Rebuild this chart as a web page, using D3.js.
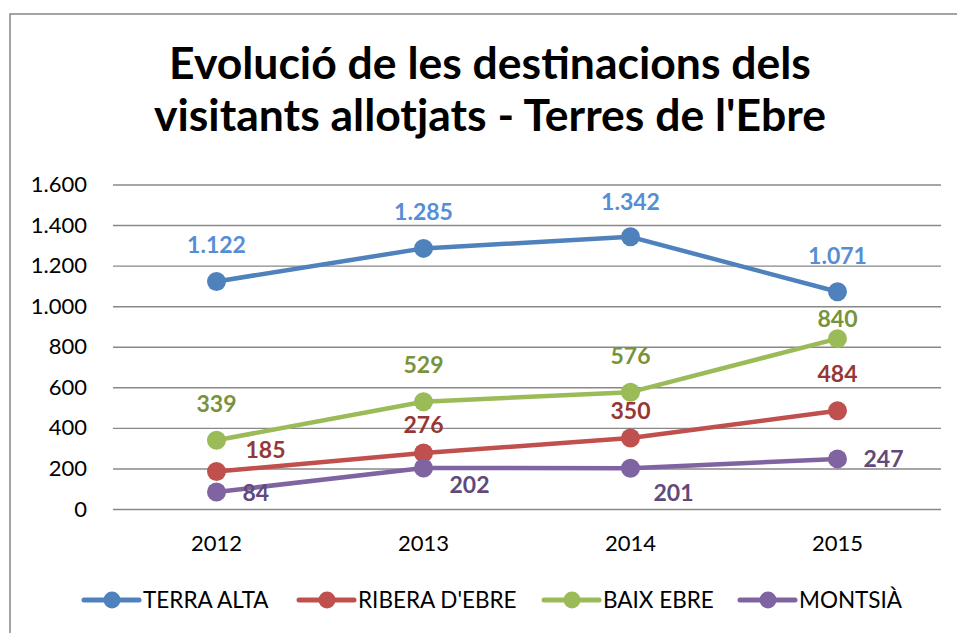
<!DOCTYPE html>
<html>
<head>
<meta charset="utf-8">
<script src="https://cdn.jsdelivr.net/npm/d3@7"></script>
<style>
  body { margin: 0; background: #fff; }
  svg { display: block; font-family: Lato, "Open Sans", sans-serif; }
</style>
</head>
<body>
<div id="chart"></div>
<script>
var years = ["2012", "2013", "2014", "2015"];
var seriesNames = ["TERRA ALTA", "RIBERA D'EBRE", "BAIX EBRE", "MONTSIÀ"];
var terraAlta = [1122, 1285, 1342, 1071];
var riberaEbre = [185, 276, 350, 484];
var baixEbre = [339, 529, 576, 840];
var montsia = [84, 202, 201, 247];
var yTicks = [0, 200, 400, 600, 800, 1000, 1200, 1400, 1600];

var width = 957,
    height = 633;

var lineColors = ["#4f81bd", "#c0504d", "#9bbb59", "#8064a2"];
var labelColors = ["#558ed5", "#953735", "#77933c", "#604a7b"];

// where each data label sits relative to its point [dx, dy, anchor]
var labelPos = [
  [[0, -28, "middle"], [0, -28, "middle"], [0, -27, "middle"], [0, -28, "middle"]],
  [[29, -13, "start"], [0, -20, "middle"], [0, -19, "middle"], [0, -29, "middle"]],
  [[0, -28, "middle"], [0, -29, "middle"], [0, -28, "middle"], [0, -12, "middle"]],
  [[26, 9, "start"], [26, 25, "start"], [23, 33, "start"], [26, 8, "start"]]
];

var series = [terraAlta, riberaEbre, baixEbre, montsia].map(function (vals, i) {
  return {
    name: seriesNames[i],
    values: vals.map(function (v, j) { return { year: years[j], value: v }; })
  };
});

var svg = d3.select("#chart").append("svg")
    .attr("width", width)
    .attr("height", height);

// chart border
svg.append("rect")
    .attr("x", 10)
    .attr("y", 14)
    .attr("width", 980)
    .attr("height", 660)
    .attr("fill", "none")
    .attr("stroke", "#878787")
    .attr("stroke-width", 1.5);

var title = svg.append("text")
    .attr("text-anchor", "middle")
    .attr("font-weight", "bold")
    .attr("font-size", "44.5px")
    .attr("fill", "#000");
title.append("tspan").attr("x", 490).attr("y", 79).text("Evolució de les destinacions dels");
title.append("tspan").attr("x", 490).attr("y", 131).text("visitants allotjats - Terres de l'Ebre");

var x = d3.scaleBand()
    .domain(years)
    .range([113, 941]);

var y = d3.scaleLinear()
    .domain([0, 1600])
    .range([509, 184.5]);

// gridlines
svg.append("g")
    .attr("transform", "translate(113,0)")
    .call(d3.axisLeft(y).tickValues(yTicks).tickSize(-828).tickFormat(""))
    .call(function (g) {
      g.select(".domain").remove();
      g.selectAll(".tick line").attr("stroke", "#888").attr("stroke-width", 1.4);
    });

var fmt = function (v) {
  return d3.format(",")(v).replace(/,/g, ".");
};

// y labels
svg.append("g")
    .attr("transform", "translate(113,0)")
    .call(d3.axisLeft(y).tickValues(yTicks).tickSize(0).tickPadding(26).tickFormat(fmt))
    .call(function (g) {
      g.select(".domain").remove();
      g.selectAll("text")
          .attr("font-family", "Lato, sans-serif")
          .attr("font-size", "22px")
          .attr("fill", "#000");
    });

// x labels
svg.append("g")
    .attr("transform", "translate(0,509)")
    .call(d3.axisBottom(x).tickSize(0).tickPadding(26))
    .call(function (g) {
      g.select(".domain").remove();
      g.selectAll("text")
          .attr("font-family", "Lato, sans-serif")
          .attr("font-size", "22px")
          .attr("fill", "#000");
    });

var line = d3.line()
    .x(function (d) { return x(d.year) + x.bandwidth() / 2; })
    .y(function (d) { return y(d.value); });

var sg = svg.selectAll(".series")
    .data(series)
    .enter().append("g")
    .attr("class", "series");

sg.append("path")
    .attr("d", function (d) { return line(d.values); })
    .attr("fill", "none")
    .attr("stroke", function (d, i) { return lineColors[i]; })
    .attr("stroke-width", 4.5)
    .attr("stroke-linejoin", "round");

sg.each(function (s, i) {
  var g = d3.select(this);
  g.selectAll("circle")
      .data(s.values)
      .enter().append("circle")
      .attr("cx", function (d) { return x(d.year) + x.bandwidth() / 2; })
      .attr("cy", function (d) { return y(d.value); })
      .attr("r", 9.5)
      .attr("fill", lineColors[i]);

  g.selectAll(".lbl")
      .data(s.values)
      .enter().append("text")
      .attr("class", "lbl")
      .attr("x", function (d, j) { return x(d.year) + x.bandwidth() / 2 + labelPos[i][j][0]; })
      .attr("y", function (d, j) { return y(d.value) + labelPos[i][j][1]; })
      .attr("text-anchor", function (d, j) { return labelPos[i][j][2]; })
      .attr("font-weight", "bold")
      .attr("font-size", "23px")
      .attr("fill", labelColors[i])
      .text(function (d) { return fmt(d.value); });
});

// legend
var legendX = [84, 299, 544, 740];
var lg = svg.selectAll(".legend")
    .data(series)
    .enter().append("g")
    .attr("class", "legend")
    .attr("transform", function (d, i) { return "translate(" + legendX[i] + ",600)"; });

lg.append("line")
    .attr("x1", 0)
    .attr("x2", 55)
    .attr("stroke", function (d, i) { return lineColors[i]; })
    .attr("stroke-width", 5)
    .attr("stroke-linecap", "round");

lg.append("circle")
    .attr("cx", 28)
    .attr("r", 8.5)
    .attr("fill", function (d, i) { return lineColors[i]; });

lg.append("text")
    .attr("x", 59)
    .attr("y", 8)
    .attr("font-size", "22.5px")
    .attr("fill", "#000")
    .text(function (d) { return d.name; });
</script>
</body>
</html>
